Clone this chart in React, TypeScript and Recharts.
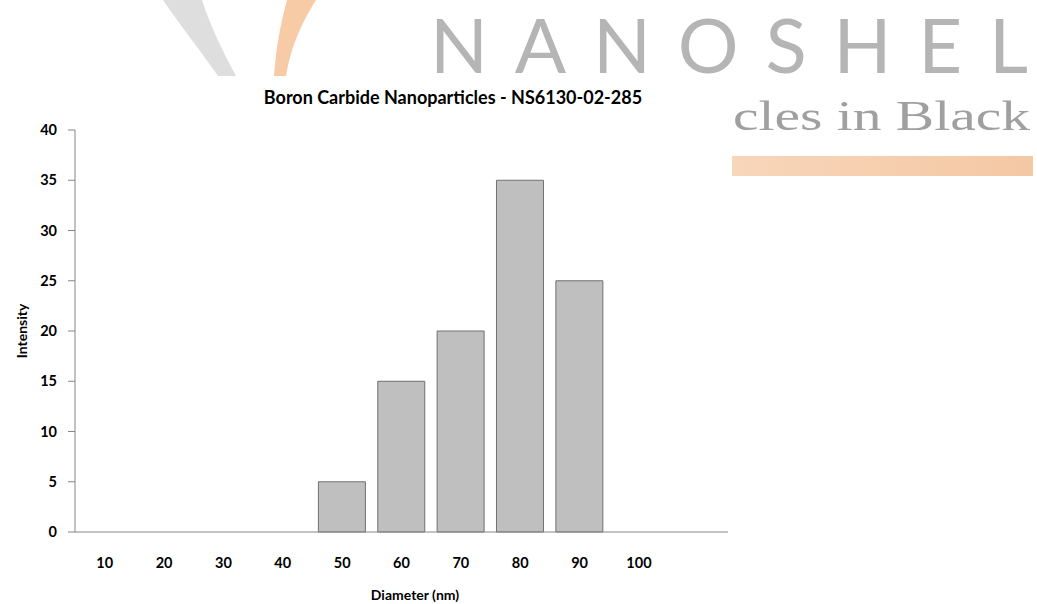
import { BarChart, Bar, XAxis, YAxis } from 'recharts';

const diameters = ['10', '20', '30', '40', '50', '60', '70', '80', '90', '100', ''];
const intensity = [0, 0, 0, 0, 5, 15, 20, 35, 25, 0, 0];
const yTicks = [0, 5, 10, 15, 20, 25, 30, 35, 40];

const data = diameters.map((d, i) => ({ diameter: d, intensity: intensity[i] }));

const FONT = 'Lato, "Open Sans", sans-serif';

function YLabel({ viewBox }: any) {
  const cy = viewBox.y + viewBox.height / 2;
  return (
    <text
      x={21}
      y={cy}
      transform={`rotate(-90, 21, ${cy})`}
      textAnchor="middle"
      dominantBaseline="central"
      fontFamily={FONT}
      fontWeight={700}
      fontSize={14}
      fill="#000"
    >
      Intensity
    </text>
  );
}

function XLabel() {
  return (
    <text
      x={415}
      y={594}
      textAnchor="middle"
      dominantBaseline="central"
      fontFamily={FONT}
      fontWeight={700}
      fontSize={14}
      fill="#000"
    >
      Diameter (nm)
    </text>
  );
}

// background logo watermark, partly hidden by the chart's white area
function Watermark() {
  return (
    <svg width={1037} height={604} style={{ position: 'absolute', left: 0, top: 0 }}>
      <path d="M163,0 L202,0 C210,25 222,50 236,76 L218,76 C200,50 180,25 163,0 Z" fill="#dedede" />
      <path d="M287,0 L316,0 C300,25 290,50 286,76 L274,76 C276,50 280,25 287,0 Z" fill="#f7cba6" />
      <text
        x={430}
        y={73}
        textLength={598}
        lengthAdjust="spacing"
        fontFamily={FONT}
        fontWeight={400}
        fontSize={76}
        fill="#b5b5b5"
      >
        NANOSHEL
      </text>
      <text
        x={733}
        y={130}
        textLength={297}
        lengthAdjust="spacingAndGlyphs"
        fontFamily='"Liberation Serif", serif'
        fontSize={42}
        fill="#a0a0a0"
      >
        cles in Black
      </text>
      <defs>
        <linearGradient id="stripe" x1="0" x2="1" y1="0" y2="0">
          <stop offset="0" stopColor="#f8d6ba" />
          <stop offset="1" stopColor="#f4c8a4" />
        </linearGradient>
      </defs>
      <rect x={732} y={156} width={301} height={20} fill="url(#stripe)" />
    </svg>
  );
}

export default function App() {
  return (
    <div style={{ position: 'relative', width: 1037, height: 604, background: '#fff', overflow: 'hidden' }}>
      <style>{'body{margin:0}'}</style>
      <Watermark />
      <div style={{ position: 'absolute', left: 0, top: 76, width: 730, height: 528, background: '#fff' }} />
      <div style={{ position: 'absolute', left: 0, top: 0 }}>
        <BarChart
          width={1037}
          height={604}
          data={data}
          margin={{ top: 130, right: 309, bottom: 22, left: 0 }}
          barCategoryGap="10%"
        >
          <text
            x={453}
            y={97}
            textAnchor="middle"
            dominantBaseline="central"
            fontFamily={FONT}
            fontWeight={700}
            fontSize={18}
            fill="#000"
          >
            Boron Carbide Nanoparticles - NS6130-02-285
          </text>
          <XAxis
            dataKey="diameter"
            height={50}
            tickLine={false}
            tickSize={0}
            tickMargin={26}
            axisLine={{ stroke: '#868686' }}
            tick={{ fill: '#000', fontSize: 14.5, fontWeight: 700, fontFamily: FONT }}
            interval={0}
            label={<XLabel />}
          />
          <YAxis
            width={75}
            domain={[0, 40]}
            ticks={yTicks}
            tickSize={7}
            tickMargin={11}
            axisLine={{ stroke: '#868686' }}
            tickLine={{ stroke: '#868686' }}
            tick={{ fill: '#000', fontSize: 14.5, fontWeight: 700, fontFamily: FONT }}
            label={<YLabel />}
          />
          <Bar dataKey="intensity" fill="#bfbfbf" stroke="#707070" strokeWidth={1} isAnimationActive={false} />
        </BarChart>
      </div>
    </div>
  );
}
